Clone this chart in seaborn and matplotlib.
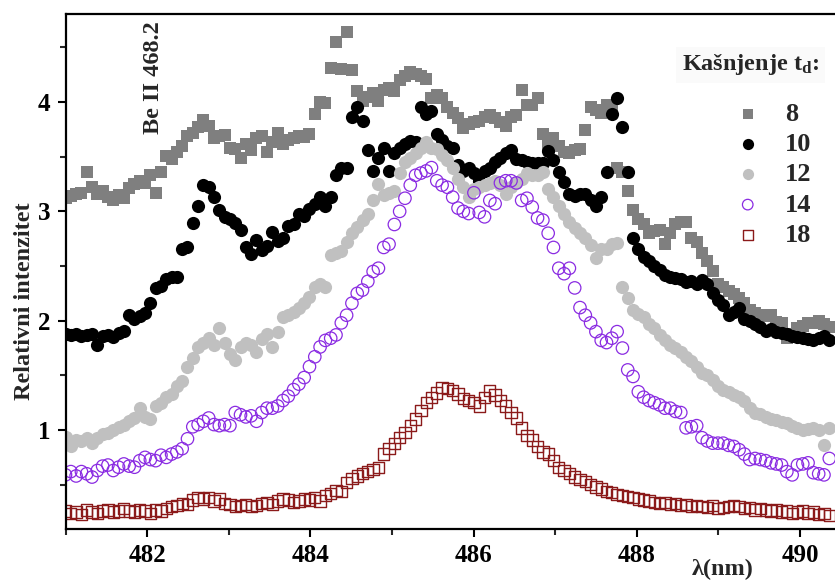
import numpy as np
import matplotlib
matplotlib.use("Agg")
import matplotlib.pyplot as plt
import seaborn as sns
from matplotlib.ticker import MultipleLocator

# ---------------- data ----------------
WL_START = 481.0   # nm
WL_STEP = 0.065    # nm, spectral sampling
series_labels = ["8", "10", "12", "14", "18"]

td8 = [3.12, 3.14, 3.16, 3.17, 3.36, 3.22, 3.16, 3.19, 3.13, 3.10,
       3.15, 3.12, 3.21, 3.25, 3.28, 3.26, 3.33, 3.17, 3.36, 3.51,
       3.48, 3.54, 3.60, 3.69, 3.72, 3.77, 3.84, 3.78, 3.67, 3.69,
       3.70, 3.58, 3.57, 3.49, 3.62, 3.56, 3.67, 3.69, 3.54, 3.63,
       3.72, 3.62, 3.65, 3.67, 3.69, 3.68, 3.71, 3.89, 4.00, 3.99,
       4.31, 4.55, 4.30, 4.64, 4.29, 4.10, 4.01, 4.05, 4.08, 4.01,
       4.11, 4.13, 4.10, 4.20, 4.24, 4.27, 4.26, 4.24, 4.21, 4.04,
       4.06, 4.04, 3.95, 3.90, 3.85, 3.76, 3.80, 3.82, 3.83, 3.86,
       3.88, 3.85, 3.82, 3.78, 3.86, 3.88, 4.11, 3.97, 3.97, 4.04,
       3.71, 3.62, 3.67, 3.60, 3.54, 3.53, 3.56, 3.57, 3.74, 3.95,
       3.93, 3.90, 3.97, 3.96, 3.40, 3.36, 3.19, 3.01, 2.93, 2.88,
       2.80, 2.82, 2.83, 2.70, 2.80, 2.88, 2.90, 2.90, 2.76, 2.72,
       2.62, 2.55, 2.45, 2.34, 2.31, 2.27, 2.24, 2.21, 2.16, 2.10,
       2.07, 2.05, 2.04, 2.05, 1.99, 1.98, 1.84, 1.88, 1.93, 1.95,
       1.98, 1.98, 2.00, 1.97, 1.94]

td10 = [1.88, 1.87, 1.88, 1.86, 1.87, 1.88, 1.78, 1.86, 1.87, 1.85,
        1.89, 1.91, 2.05, 2.02, 2.04, 2.07, 2.16, 2.30, 2.32, 2.38,
        2.40, 2.40, 2.66, 2.67, 2.89, 3.05, 3.24, 3.22, 3.13, 3.01,
        2.95, 2.93, 2.89, 2.83, 2.67, 2.61, 2.74, 2.65, 2.68, 2.81,
        2.73, 2.76, 2.87, 2.88, 2.98, 2.96, 3.02, 3.07, 3.13, 3.05,
        3.13, 3.33, 3.40, 3.40, 3.86, 3.95, 3.83, 3.56, 3.37, 3.49,
        3.58, 3.37, 3.53, 3.58, 3.62, 3.64, 3.63, 3.95, 3.89, 3.92,
        3.71, 3.65, 3.60, 3.58, 3.42, 3.37, 3.40, 3.35, 3.28, 3.37,
        3.40, 3.45, 3.49, 3.53, 3.56, 3.48, 3.47, 3.45, 3.44, 3.44,
        3.44, 3.55, 3.47, 3.36, 3.27, 3.16, 3.14, 3.16, 3.16, 3.10,
        3.05, 3.13, 3.36, 3.89, 4.04, 3.77, 3.36, 2.76, 2.66, 2.58,
        2.55, 2.50, 2.46, 2.42, 2.40, 2.39, 2.38, 2.35, 2.36, 2.34,
        2.37, 2.34, 2.25, 2.19, 2.14, 2.05, 2.08, 2.12, 2.02, 2.00,
        1.97, 1.94, 1.91, 1.92, 1.90, 1.89, 1.88, 1.86, 1.85, 1.84,
        1.83, 1.82, 1.84, 1.86, 1.82]

td12 = [0.94, 0.85, 0.91, 0.90, 0.93, 0.88, 0.93, 0.96, 0.97, 1.00,
        1.03, 1.05, 1.08, 1.11, 1.20, 1.12, 1.10, 1.22, 1.25, 1.30,
        1.33, 1.40, 1.45, 1.58, 1.66, 1.76, 1.80, 1.84, 1.78, 1.93,
        1.80, 1.70, 1.64, 1.76, 1.80, 1.78, 1.71, 1.83, 1.88, 1.76,
        1.90, 2.03, 2.05, 2.08, 2.12, 2.16, 2.22, 2.31, 2.34, 2.31,
        2.60, 2.62, 2.64, 2.72, 2.80, 2.86, 2.92, 2.98, 3.10, 3.25,
        3.15, 3.17, 3.19, 3.35, 3.45, 3.49, 3.53, 3.58, 3.63, 3.58,
        3.57, 3.52, 3.47, 3.40, 3.30, 3.22, 3.13, 3.20, 3.22, 3.24,
        3.26, 3.28, 3.24, 3.16, 3.22, 3.26, 3.30, 3.35, 3.33, 3.33,
        3.36, 3.20, 3.13, 3.05, 2.98, 2.90, 2.85, 2.80, 2.76, 2.69,
        2.57, 2.66, 2.66, 2.70, 2.71, 2.31, 2.21, 2.10, 2.06, 2.03,
        1.97, 1.93, 1.87, 1.82, 1.78, 1.75, 1.71, 1.67, 1.63, 1.58,
        1.52, 1.50, 1.46, 1.40, 1.37, 1.35, 1.32, 1.30, 1.27, 1.20,
        1.16, 1.15, 1.12, 1.10, 1.09, 1.07, 1.06, 1.04, 1.02, 1.00,
        1.01, 1.02, 1.00, 0.86, 1.02]

td14 = [0.59, 0.62, 0.58, 0.62, 0.60, 0.57, 0.63, 0.67, 0.68, 0.63,
        0.66, 0.69, 0.67, 0.66, 0.72, 0.75, 0.73, 0.72, 0.77, 0.75,
        0.78, 0.80, 0.83, 0.92, 1.03, 1.05, 1.08, 1.11, 1.05, 1.04,
        1.05, 1.04, 1.16, 1.14, 1.12, 1.13, 1.08, 1.16, 1.20, 1.20,
        1.22, 1.27, 1.31, 1.37, 1.42, 1.48, 1.58, 1.67, 1.76, 1.82,
        1.84, 1.87, 1.98, 2.05, 2.16, 2.25, 2.28, 2.36, 2.45, 2.48,
        2.67, 2.70, 2.88, 3.00, 3.12, 3.24, 3.33, 3.35, 3.37, 3.40,
        3.28, 3.24, 3.22, 3.13, 3.03, 3.00, 2.98, 3.17, 2.99, 2.95,
        3.10, 3.07, 3.26, 3.28, 3.28, 3.26, 3.10, 3.12, 3.04, 2.94,
        2.92, 2.80, 2.67, 2.48, 2.43, 2.48, 2.30, 2.12, 2.05, 1.98,
        1.90, 1.82, 1.80, 1.84, 1.90, 1.75, 1.55, 1.49, 1.35, 1.30,
        1.27, 1.25, 1.23, 1.20, 1.20, 1.17, 1.16, 1.02, 1.03, 1.04,
        0.93, 0.90, 0.88, 0.88, 0.88, 0.86, 0.85, 0.82, 0.78, 0.73,
        0.74, 0.73, 0.72, 0.70, 0.69, 0.68, 0.62, 0.59, 0.68, 0.69,
        0.70, 0.61, 0.60, 0.59, 0.74]

td18 = [0.26, 0.24, 0.25, 0.23, 0.27, 0.25, 0.24, 0.26, 0.27, 0.25,
        0.26, 0.28, 0.26, 0.25, 0.27, 0.26, 0.24, 0.27, 0.26, 0.28,
        0.30, 0.31, 0.33, 0.32, 0.36, 0.38, 0.37, 0.38, 0.35, 0.37,
        0.33, 0.32, 0.30, 0.31, 0.32, 0.30, 0.31, 0.33, 0.34, 0.32,
        0.35, 0.37, 0.36, 0.34, 0.35, 0.37, 0.36, 0.38, 0.35, 0.40,
        0.42, 0.45, 0.44, 0.52, 0.56, 0.58, 0.60, 0.62, 0.64, 0.66,
        0.78, 0.83, 0.88, 0.93, 0.98, 1.04, 1.10, 1.18, 1.25, 1.30,
        1.34, 1.39, 1.38, 1.36, 1.33, 1.29, 1.27, 1.25, 1.22, 1.30,
        1.36, 1.32, 1.27, 1.22, 1.16, 1.11, 1.02, 0.95, 0.91, 0.85,
        0.80, 0.78, 0.72, 0.66, 0.63, 0.60, 0.57, 0.55, 0.53, 0.50,
        0.48, 0.46, 0.44, 0.43, 0.41, 0.40, 0.39, 0.38, 0.37, 0.36,
        0.35, 0.34, 0.33, 0.34, 0.32, 0.33, 0.31, 0.32, 0.30, 0.31,
        0.30, 0.29, 0.31, 0.28, 0.29, 0.30, 0.31, 0.30, 0.28, 0.29,
        0.27, 0.28, 0.27, 0.26, 0.27, 0.25, 0.26, 0.24, 0.25, 0.26,
        0.24, 0.25, 0.23, 0.24, 0.22]

x_major_ticks = [482, 484, 486, 488, 490]
y_major_ticks = [1, 2, 3, 4]

wl = np.round(WL_START + WL_STEP * np.arange(len(td8)), 3)

# ---------------- style ----------------
sns.set_theme(style="ticks")
plt.rcParams["font.family"] = ["Liberation Serif", "DejaVu Serif"]
plt.rcParams["font.weight"] = "bold"
plt.rcParams["axes.labelweight"] = "bold"
plt.rcParams["mathtext.fontset"] = "custom"
plt.rcParams["mathtext.rm"] = "Liberation Serif:bold"
plt.rcParams["mathtext.bf"] = "Liberation Serif:bold"
plt.rcParams["mathtext.it"] = "Liberation Serif:bold"

FS_TICK = 18
FS_LAB = 17.5
FS_LEG = 19

fig = plt.figure(figsize=(8.35, 5.83), dpi=100)
ax = fig.add_axes([65.5 / 835, 54 / 583, 769.5 / 835, 515 / 583])

styles = [
    dict(marker="s", s=80, color="#7f7f7f", edgecolor="#7f7f7f", linewidth=0),
    dict(marker="o", s=90, color="#000000", edgecolor="#000000", linewidth=0),
    dict(marker="o", s=90, color="#c0c0c0", edgecolor="#c0c0c0", linewidth=0),
    dict(marker="o", s=80, facecolors="none", edgecolor="#8a2be2", linewidth=0.9),
    dict(marker="s", s=66, facecolors="none", edgecolor="#8b1a1a", linewidth=1.0),
]
for vals, lab, st in zip([td8, td10, td12, td14, td18], series_labels, styles):
    sns.scatterplot(x=wl, y=vals, ax=ax, label=lab, **st)

ax.set_xlim(481.0, 490.43)
ax.set_ylim(0.095, 4.805)
ax.xaxis.set_major_locator(MultipleLocator(2))
ax.xaxis.set_minor_locator(MultipleLocator(1))
ax.yaxis.set_major_locator(MultipleLocator(1))
ax.yaxis.set_minor_locator(MultipleLocator(0.5))
ax.set_xticks(x_major_ticks)
ax.set_yticks(y_major_ticks)
ax.set_xticklabels([str(t) for t in x_major_ticks])
ax.set_yticklabels([str(t) for t in y_major_ticks])

for side in ["left", "bottom", "top"]:
    ax.spines[side].set_linewidth(1.6)
    ax.spines[side].set_color("black")
ax.spines["right"].set_visible(False)

ax.tick_params(axis="both", which="major", direction="out", length=6, width=1.5,
               labelsize=FS_TICK, pad=5, colors="black", top=False, right=False)
ax.tick_params(axis="both", which="minor", direction="out", length=4, width=1.5,
               top=False, right=False)
for lbl in ax.get_xticklabels() + ax.get_yticklabels():
    lbl.set_fontweight("bold")

ax.set_xlabel("λ(nm)", fontsize=FS_LAB, fontweight="bold")
ax.xaxis.set_label_coords(0.854, -0.058)
ax.set_ylabel("Relativni intenzitet", fontsize=FS_LAB, fontweight="bold")
ax.yaxis.set_label_coords(-0.040, 0.443)

ax.text(0.115, 0.877, "Be II 468.2", transform=ax.transAxes, rotation=90,
        ha="center", va="center", fontsize=17.5, fontweight="bold")

ax.text(0.801, 0.891, r"Kašnjenje t$_\mathbf{d}$:", transform=ax.transAxes,
        ha="left", va="baseline", fontsize=17.5, fontweight="bold",
        bbox=dict(facecolor="#fafafa", edgecolor="none", pad=4))

leg = ax.legend(loc="upper left", bbox_to_anchor=(0.866, 0.829), frameon=False,
                fontsize=FS_LEG, markerscale=0.85, handlelength=1.2,
                handletextpad=0.8, labelspacing=0.26, borderpad=0,
                borderaxespad=0)
for t in leg.get_texts():
    t.set_fontweight("bold")

fig.savefig("out.png", dpi=100)
